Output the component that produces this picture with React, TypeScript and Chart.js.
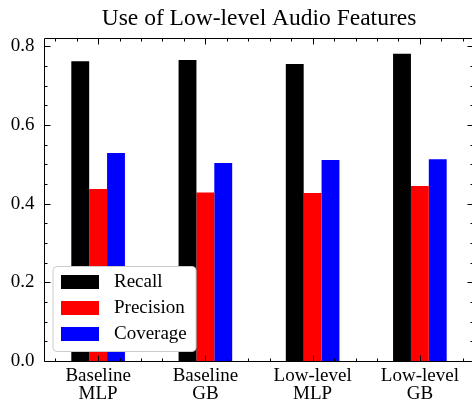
import React, { useEffect, useRef } from 'react';
import { Chart, registerables } from 'chart.js';

Chart.register(...registerables);

const categories: string[][] = [
  ['Baseline', 'MLP'],
  ['Baseline', 'GB'],
  ['Low-level', 'MLP'],
  ['Low-level', 'GB'],
];
const recall = [0.762, 0.765, 0.755, 0.781];
const precision = [0.437, 0.428, 0.427, 0.445];
const coverage = [0.529, 0.503, 0.511, 0.513];
const seriesNames = ['Recall', 'Precision', 'Coverage'];
const seriesColors = ['#000000', '#ff0000', '#0000ff'];
const yTickValues = [0, 0.2, 0.4, 0.6, 0.8];
const yMin = 0;
const yMax = 0.821;
const yMinorStep = 0.05;
const xMinorStep = 0.2;
const titleText = 'Use of Low-level Audio Features';

const FONT = "'Liberation Serif', 'Times New Roman', serif";

const titlePlugin = {
  id: 'axesTitle',
  afterDraw(chart: any) {
    const { ctx, chartArea: a } = chart;
    ctx.save();
    ctx.fillStyle = '#000';
    ctx.font = `23.5px ${FONT}`;
    ctx.textAlign = 'center';
    ctx.textBaseline = 'alphabetic';
    ctx.fillText(titleText, (a.left + a.right) / 2, 25);
    ctx.restore();
  },
};

const framePlugin = {
  id: 'frameTicks',
  afterDraw(chart: any) {
    const { ctx, chartArea: a, scales } = chart;
    const xs = scales.x;
    const ys = scales.y;
    const L = Math.floor(a.left) + 0.5;
    const R = Math.floor(a.right) + 0.5;
    const T = Math.floor(a.top) + 0.5;
    const B = Math.floor(a.bottom) + 0.5;
    ctx.save();
    ctx.strokeStyle = '#000';
    ctx.lineWidth = 1;
    ctx.beginPath();
    ctx.moveTo(L, T);
    ctx.lineTo(R, T);
    ctx.lineTo(R, B);
    ctx.lineTo(L, B);
    ctx.closePath();
    ctx.stroke();

    const major = 6;
    const minor = 3;
    ctx.beginPath();
    // y ticks
    for (let v = yMin; v <= yMax + 1e-9; v += yMinorStep) {
      const isMajor = yTickValues.some((t) => Math.abs(t - v) < 1e-6);
      const len = isMajor ? major : minor;
      const py = Math.round(ys.getPixelForValue(v)) + 0.5;
      ctx.moveTo(L, py);
      ctx.lineTo(L + len, py);
      ctx.moveTo(R, py);
      ctx.lineTo(R - len, py);
    }
    // x ticks
    const p0 = xs.getPixelForValue(0);
    const step = xs.getPixelForValue(1) - p0;
    const n = categories.length;
    for (let k = Math.ceil(-0.5 / xMinorStep); k * xMinorStep <= n - 0.5; k++) {
      const t = k * xMinorStep;
      const isMajor = Math.abs(t - Math.round(t)) < 1e-6;
      const len = isMajor ? major : minor;
      const px = Math.round(p0 + t * step) + 0.5;
      if (px < L || px > R) continue;
      ctx.moveTo(px, B);
      ctx.lineTo(px, B - len);
      ctx.moveTo(px, T);
      ctx.lineTo(px, T + len);
    }
    ctx.stroke();
    ctx.restore();
  },
};

const legendPlugin = {
  id: 'boxLegend',
  afterDatasetsDraw(chart: any) {
    const { ctx, chartArea: a } = chart;
    const w = 143;
    const h = 85;
    const x = a.left + 8.5;
    const y = a.bottom - 9.5 - h;
    const r = 4;
    ctx.save();
    ctx.beginPath();
    ctx.moveTo(x + r, y);
    ctx.lineTo(x + w - r, y);
    ctx.arcTo(x + w, y, x + w, y + r, r);
    ctx.lineTo(x + w, y + h - r);
    ctx.arcTo(x + w, y + h, x + w - r, y + h, r);
    ctx.lineTo(x + r, y + h);
    ctx.arcTo(x, y + h, x, y + h - r, r);
    ctx.lineTo(x, y + r);
    ctx.arcTo(x, y, x + r, y, r);
    ctx.closePath();
    ctx.fillStyle = '#ffffff';
    ctx.fill();
    ctx.strokeStyle = '#cccccc';
    ctx.lineWidth = 1;
    ctx.stroke();

    ctx.font = `19px ${FONT}`;
    ctx.textAlign = 'left';
    ctx.textBaseline = 'middle';
    chart.data.datasets.forEach((ds: any, i: number) => {
      const sy = y + 8.5 + i * 26;
      ctx.fillStyle = ds.backgroundColor;
      ctx.fillRect(x + 8, sy, 38, 14);
      ctx.fillStyle = '#000';
      ctx.fillText(ds.label, x + 61, sy + 7.5);
    });
    ctx.restore();
  },
};

export default function App() {
  const ref = useRef<HTMLCanvasElement>(null);
  useEffect(() => {
    document.body.style.margin = '0';
    document.body.style.overflow = 'hidden';
    const canvas = ref.current;
    if (!canvas) return;
    const values = [recall, precision, coverage];
    const chart = new Chart(canvas, {
      type: 'bar',
      data: {
        labels: categories as any,
        datasets: seriesNames.map((name, i) => ({
          label: name,
          data: values[i],
          backgroundColor: seriesColors[i],
          borderWidth: 0,
          categoryPercentage: 0.5,
          barPercentage: 1.0,
        })),
      },
      options: {
        responsive: false,
        animation: false,
        devicePixelRatio: 1,
        layout: { padding: { top: 38, right: 0.5, left: 0, bottom: 0 } },
        plugins: {
          legend: { display: false },
          title: { display: false },
          tooltip: { enabled: false },
        },
        scales: {
          x: {
            offset: true,
            grid: { display: false, drawTicks: false },
            border: { display: false },
            ticks: {
              color: '#000',
              font: { family: FONT, size: 19, lineHeight: '18px' as any },
              padding: 6,
              maxRotation: 0,
              autoSkip: false,
            },
            afterFit: (s: any) => {
              s.height = 44;
            },
          },
          y: {
            min: yMin,
            max: yMax,
            grid: { display: false, drawTicks: false },
            border: { display: false },
            ticks: {
              color: '#000',
              font: { family: FONT, size: 19 },
              padding: 10,
              callback: (v: any) => Number(v).toFixed(1),
            },
            afterBuildTicks: (s: any) => {
              s.ticks = yTickValues.map((v) => ({ value: v }));
            },
            afterFit: (s: any) => {
              s.width = 44.5;
            },
          },
        },
      },
      plugins: [legendPlugin, framePlugin, titlePlugin],
    });
    return () => chart.destroy();
  }, []);
  return (
    <div style={{ width: 474, height: 405 }}>
      <canvas ref={ref} width={474} height={405} style={{ display: 'block', width: 474, height: 405 }} />
    </div>
  );
}
